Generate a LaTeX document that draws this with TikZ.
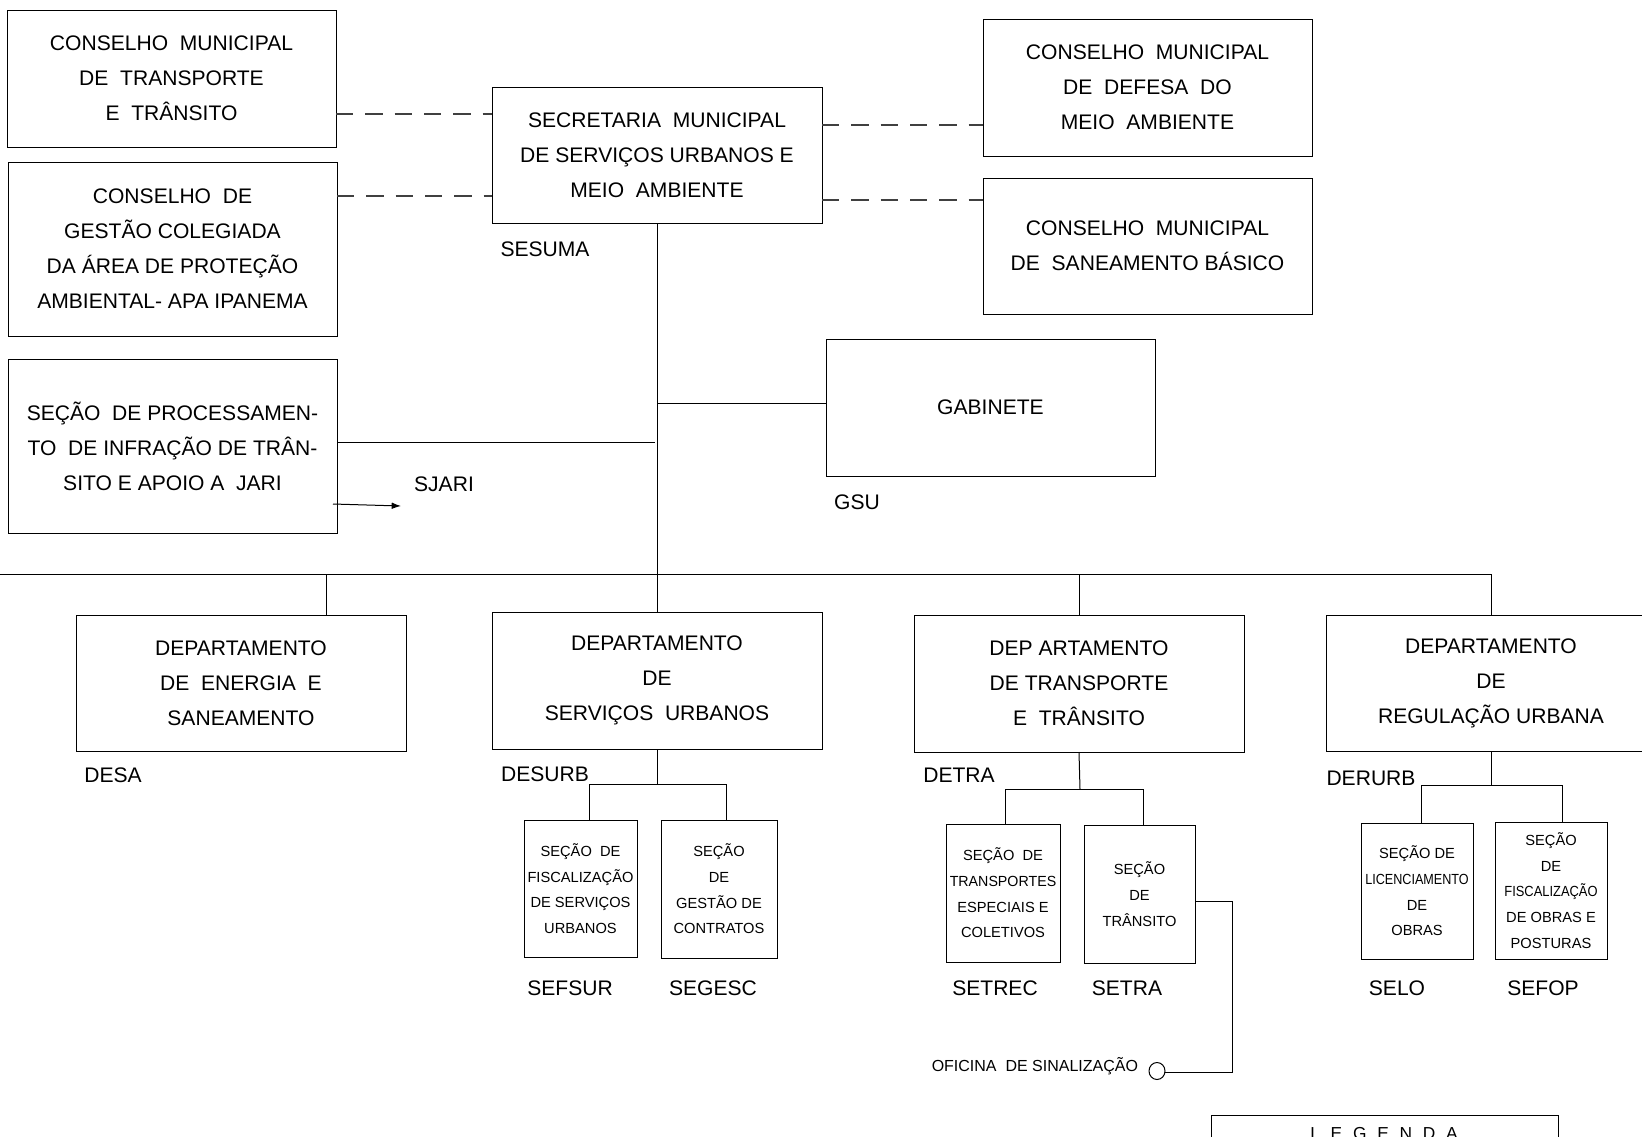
\documentclass[tikz,border=0pt]{standalone}
\usepackage{fontspec}
\setmainfont{Liberation Sans}
\usetikzlibrary{arrows.meta,shapes.geometric}
\newcommand\lsp{\hspace{0.62em}}
\begin{document}
\begin{tikzpicture}[x=0.75pt,y=-0.75pt,
  every node/.style={inner sep=0pt, outer sep=0pt},
  sz/.style 2 args={minimum width=#1*0.75pt, minimum height=#2*0.75pt},
  bigbox/.style={draw, line width=0.75pt, align=center, font=\fontsize{15.8}{26.3}\selectfont},
  smallbox/.style={draw, line width=0.75pt, align=center, font=\fontsize{11}{19.3}\selectfont},
  lbl/.style={font=\fontsize{15.8}{19}\selectfont},
  conn/.style={line width=0.75pt},
  dashconn/.style={line width=0.9pt, dash pattern=on 13pt off 9pt, black!75}]
\useasboundingbox (0,0) rectangle (1642,1136);
\clip (0,0) rectangle (1642,1136);

% top boxes
\node[bigbox, sz={329}{137}] (cmtt) at (171.5,78.5) {CONSELHO~ MUNICIPAL\\DE~ TRANSPORTE\\E~ TRÂNSITO};
\node[bigbox, sz={329}{174}] (cgc) at (172.5,249) {CONSELHO~ DE\\GESTÃO COLEGIADA\\DA ÁREA DE PROTEÇÃO\\AMBIENTAL- APA IPANEMA};
\node[bigbox, sz={329}{174}] (spi) at (172.5,446) {SEÇÃO~ DE PROCESSAMEN-\\TO~ DE INFRAÇÃO DE TRÂN-\\SITO E APOIO A~ JARI};
\node[bigbox, sz={330}{136}] (sesuma) at (657,155) {SECRETARIA~ MUNICIPAL\\DE SERVIÇOS URBANOS E\\MEIO~ AMBIENTE};
\node[bigbox, sz={329}{137}] (cmdma) at (1147.5,87.5) {CONSELHO~ MUNICIPAL\\DE~ DEFESA~ DO\\MEIO~ AMBIENTE};
\node[bigbox, sz={329}{136}] (cmsb) at (1147.5,246) {CONSELHO~ MUNICIPAL\\DE~ SANEAMENTO BÁSICO};
\node[bigbox, sz={329}{137}] (gab) at (990.5,407.5) {GABINETE};

% departments
\node[bigbox, sz={330}{136}] (desa) at (241,683) {DEPARTAMENTO\\DE~ ENERGIA~ E\\SANEAMENTO};
\node[bigbox, sz={330}{137}] (desurb) at (657,680.5) {DEPARTAMENTO\\DE\\SERVIÇOS~ URBANOS};
\node[bigbox, sz={330}{137}] (detra) at (1079,683.5) {DEP ARTAMENTO\\DE TRANSPORTE\\E~ TRÂNSITO};
\node[bigbox, sz={330}{136}] (derurb) at (1491,683) {DEPARTAMENTO\\DE\\REGULAÇÃO URBANA};

% sections
\node[smallbox, sz={113}{137}] (sefsur) at (580.5,888.5) {SEÇÃO~ DE\\FISCALIZAÇÃO\\DE SERVIÇOS\\URBANOS};
\node[smallbox, sz={116}{138}] (segesc) at (719,889) {SEÇÃO\\DE\\GESTÃO DE\\CONTRATOS};
\node[smallbox, sz={114}{138}] (setrec) at (1003,893) {SEÇÃO~ DE\\\scalebox{0.97}[1]{TRANSPORTES}\\ESPECIAIS E\\COLETIVOS};
\node[smallbox, sz={111}{138}] (setra) at (1139.5,894) {SEÇÃO\\DE\\TRÂNSITO};
\node[smallbox, sz={112}{136}] (selo) at (1417,891) {SEÇÃO DE\\\scalebox{0.86}[1]{LICENCIAMENTO}\\DE\\OBRAS};
\node[smallbox, sz={112}{137}] (sefop) at (1551,890.5) {SEÇÃO\\DE\\\scalebox{0.88}[1]{FISCALIZAÇÃO}\\DE OBRAS E\\POSTURAS};

% labels
\node[lbl] (lsesuma) at (545,249) {SESUMA};
\node[lbl] (lgsu) at (857,502) {GSU};
\node[lbl] (lsjari) at (444,484) {SJARI};
\node[lbl] (ldesa) at (113,775) {DESA};
\node[lbl] (ldesurb) at (545,774) {DESURB};
\node[lbl] (ldetra) at (959,775) {DETRA};
\node[lbl] (lderurb) at (1371,778) {DERURB};
\node[lbl] (lsefsur) at (570,988) {SEFSUR};
\node[lbl] (lsegesc) at (713,988) {SEGESC};
\node[lbl] (lsetrec) at (995,988) {SETREC};
\node[lbl] (lsetra) at (1127,988) {SETRA};
\node[lbl] (lselo) at (1397,988) {SELO};
\node[lbl] (lsefop) at (1543,988) {SEFOP};

% oficina
\node[ellipse, draw, line width=0.75pt, minimum width=16*0.75pt, minimum height=17*0.75pt] (circ) at (1157,1071) {};
\node[anchor=east, font=\fontsize{12}{14}\selectfont] (ofic) at (1138,1066) {OFICINA~ DE SINALIZAÇÃO};

% legend
\node[draw, line width=0.75pt, anchor=north west, sz={347}{60}] (leg) at (1211,1115) {};
\node[anchor=base, font=\fontsize{13}{15}\selectfont] (legt) at (1384,1139.5) {L\lsp E\lsp G\lsp E\lsp N\lsp D\lsp A};

% coordinates
\coordinate (tg) at (657,403);
\coordinate (gw) at (826,403);
\coordinate (ts) at (655,442);
\coordinate (se) at (337,442);
\coordinate (busL) at (-5,574);
\coordinate (busR) at (1491,574);
\coordinate (dA) at (326,574);
\coordinate (dAb) at (326,615);

% connectors
\draw[conn] (sesuma.south) -- (desurb.north);
\draw[conn] (tg) -- (gw);
\draw[conn] (se) -- (ts);
\draw[conn] (busL) -- (busR);
\draw[conn] (dA) -- (dAb);
\draw[conn] (detra.north |- busL) -- (detra.north);
\draw[conn] (derurb.north |- busL) -- (derurb.north);

\draw[conn] (desurb.south) -- (657,784);
\draw[conn] (589,820) -- (589,784) -- (726,784) -- (726,820);
\draw[conn] (detra.south) -- (1080,789);
\draw[conn] (1005,824) -- (1005,789) -- (1143,789) -- (1143,825);
\draw[conn] (derurb.south) -- (1491,785);
\draw[conn] (1421,823) -- (1421,785) -- (1562,785) -- (1562,822);

\draw[conn] (setra.east |- 0,901) -- (1232,901) -- (1232,1072) -- (circ.east |- 0,1072);

\coordinate (ar1) at (333,504);
\coordinate (ar2) at (401,506);
\draw[conn, -{Latex[length=7pt,width=5pt]}] (ar1) -- (ar2);

% dashed
\draw[dashconn] (cmtt.east |- 0,114) -- (sesuma.west |- 0,114);
\draw[dashconn] (cgc.east |- 0,196) -- (sesuma.west |- 0,196);
\draw[dashconn] (sesuma.east |- 0,125) -- (cmdma.west |- 0,125);
\draw[dashconn] (sesuma.east |- 0,200) -- (cmsb.west |- 0,200);
\end{tikzpicture}
\end{document}
